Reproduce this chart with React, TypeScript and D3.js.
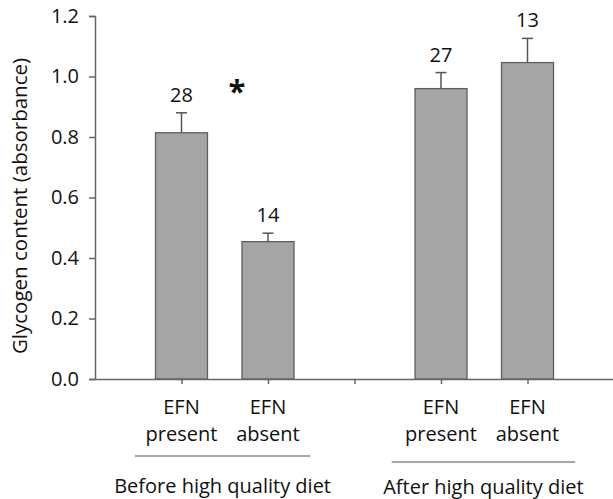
import React, { useEffect, useRef } from 'react';
import * as d3 from 'd3';

const positions = [1, 2, 4, 5];
const nameTop = ['EFN', 'EFN', 'EFN', 'EFN'];
const nameBottom = ['present', 'absent', 'present', 'absent'];
const means = [0.814, 0.454, 0.96, 1.046];
const errors = [0.066, 0.028, 0.053, 0.08];
const sampleSizes = [28, 14, 27, 13];
const xTicks = [1, 2, 3, 4, 5];
const yTicks = [0, 0.2, 0.4, 0.6, 0.8, 1.0, 1.2];
const groupLabels = ['Before high quality diet', 'After high quality diet'];
const groupSpans = [[0.46, 2.49], [3.43, 5.55]];

const W = 613;
const H = 499;
const FONT = '"Open Sans", sans-serif';

const GlycogenChart: React.FC = () => {
  const svgRef = useRef<SVGSVGElement>(null);

  useEffect(() => {
    if (!svgRef.current) return;
    const svg = d3.select(svgRef.current);
    svg.selectAll('*').remove();

    const x = d3.scaleLinear().domain([0, 6]).range([95, 614]);
    const y = d3.scaleLinear().domain([0, 1.2]).range([379, 16]);
    const barW = 52;

    // y axis
    const yAxis = svg.append('g')
      .attr('transform', `translate(${x(0)},0)`)
      .call(d3.axisLeft(y).tickValues(yTicks).tickFormat(d3.format('.1f')).tickSize(6).tickPadding(10));
    yAxis.select('.domain').attr('stroke', '#666').attr('stroke-width', 1.5);
    yAxis.selectAll('.tick line').attr('stroke', '#666').attr('stroke-width', 1.5);
    yAxis.selectAll('.tick text')
      .attr('font-family', FONT)
      .attr('font-size', 20)
      .attr('fill', '#111');

    // bars
    svg.append('g').selectAll('rect')
      .data(means)
      .enter().append('rect')
      .attr('x', (_, i) => x(positions[i]) - barW / 2)
      .attr('y', d => y(d))
      .attr('width', barW)
      .attr('height', d => y(0) - y(d))
      .attr('fill', '#a5a5a5')
      .attr('stroke', '#5f5f5f')
      .attr('stroke-width', 1.3);

    // error bars
    const err = svg.append('g').attr('stroke', '#555').attr('stroke-width', 1.5);
    means.forEach((m, i) => {
      const cx = x(positions[i]);
      err.append('line').attr('x1', cx).attr('x2', cx).attr('y1', y(m)).attr('y2', y(m + errors[i]));
      err.append('line').attr('x1', cx - 5.5).attr('x2', cx + 5.5).attr('y1', y(m + errors[i])).attr('y2', y(m + errors[i]));
    });

    // n labels
    svg.append('g').selectAll('text')
      .data(sampleSizes)
      .enter().append('text')
      .attr('x', (_, i) => x(positions[i]))
      .attr('y', (_, i) => y(means[i] + errors[i]) - 11)
      .attr('text-anchor', 'middle')
      .attr('font-family', FONT)
      .attr('font-size', 20)
      .attr('fill', '#111')
      .text(d => d);

    // significance
    svg.append('text')
      .attr('x', 237)
      .attr('y', 102)
      .attr('text-anchor', 'middle')
      .attr('font-family', FONT)
      .attr('font-weight', 'bold')
      .attr('font-size', 31)
      .attr('fill', '#111')
      .text('*');

    // x axis
    const xAxis = svg.append('g')
      .attr('transform', `translate(0,${y(0)})`)
      .call(d3.axisBottom(x).tickValues(xTicks).tickFormat(() => '').tickSize(5).tickSizeOuter(0));
    xAxis.select('.domain').attr('stroke', '#666').attr('stroke-width', 1.5);
    xAxis.selectAll('.tick line').attr('stroke', '#666').attr('stroke-width', 1.5);

    // category labels
    const cat = svg.append('g')
      .attr('font-family', FONT)
      .attr('font-size', 20)
      .attr('fill', '#111')
      .attr('text-anchor', 'middle');
    positions.forEach((p, i) => {
      cat.append('text').attr('x', x(p)).attr('y', 414).text(nameTop[i]);
      cat.append('text').attr('x', x(p)).attr('y', 441).text(nameBottom[i]);
    });

    // group lines and labels
    const lineYs = [456, 462];
    const labelYs = [493, 494];
    groupLabels.forEach((g, i) => {
      const [a, b] = groupSpans[i];
      svg.append('line')
        .attr('x1', x(a)).attr('x2', x(b))
        .attr('y1', lineYs[i]).attr('y2', lineYs[i])
        .attr('stroke', '#888')
        .attr('stroke-width', 1.5);
      svg.append('text')
        .attr('x', (x(a) + x(b)) / 2)
        .attr('y', labelYs[i])
        .attr('text-anchor', 'middle')
        .attr('font-family', FONT)
        .attr('font-size', 20)
        .attr('fill', '#111')
        .text(g);
    });

    // y label
    svg.append('text')
      .attr('transform', `translate(27,${206}) rotate(-90)`)
      .attr('text-anchor', 'middle')
      .attr('font-family', FONT)
      .attr('font-size', 20.5)
      .attr('fill', '#111')
      .text('Glycogen content (absorbance)');
  }, []);

  return (
    <svg
      ref={svgRef}
      width={W}
      height={H}
      style={{ position: 'absolute', left: 0, top: 0, background: '#fff' }}
    />
  );
};

export default function App() {
  return <GlycogenChart />;
}
